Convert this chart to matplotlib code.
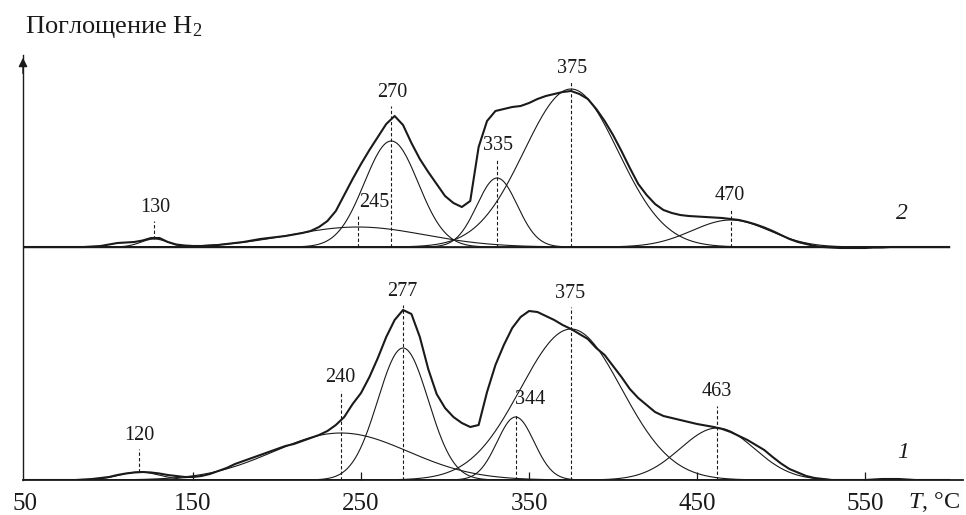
import numpy as np
import matplotlib
matplotlib.use("Agg")
import matplotlib.pyplot as plt

plt.rcParams['font.family'] = ['Liberation Serif', 'DejaVu Serif']
plt.rcParams['mathtext.fontset'] = 'custom'
plt.rcParams['mathtext.rm'] = 'Liberation Serif'
plt.rcParams['mathtext.it'] = 'Liberation Serif:italic'

# temperature grid of the measured TPR traces
temp = np.arange(50, 601, 5)

# curve 1 (bottom), H2 uptake, arbitrary units
uptake1 = [0, 0, 0, 0, 0, 0, 0, 0.5, 1, 2,
           3, 5, 6.5, 7.5, 8, 7.5, 6.5, 5, 4, 3,
           3, 4, 6, 9, 12, 16, 19, 22, 25, 28,
           31, 34, 36, 39, 42, 45, 49, 55, 63, 76,
           87, 103, 122, 143, 160, 170, 166, 143, 111, 86,
           72, 63, 57, 53, 55, 88, 115, 135, 152, 163,
           169, 168, 164, 160, 155, 151, 146, 141, 132, 125,
           114, 103, 91, 82, 75, 68, 64, 62, 60, 58,
           56, 54.5, 53, 51, 48, 44, 40, 35, 30, 23,
           16.5, 11, 7.5, 4, 2, 1, 0, 0, 0, 0,
           0, 0.5, 1, 1, 1, 0.5, 0, 0, 0, 0, 0]

# curve 2 (top)
uptake2 = [0, 0, 0, 0, 0, 0, 0, 0, 0.5, 1,
           2.5, 4, 4.5, 5, 6.5, 9, 9, 5, 2.5, 1.5,
           1, 1, 1.5, 2, 3, 4, 5, 6.5, 8, 9,
           10, 11, 12.5, 14, 16, 20, 26, 36, 52, 68,
           83, 97, 110, 123, 131, 122, 104, 88, 75, 63,
           51, 44, 40, 46, 100, 126, 136, 138, 140, 141,
           144, 148, 151, 153, 155, 156, 153, 148, 138, 126,
           112, 96, 79, 63, 52, 43, 37, 34, 32, 31,
           30.5, 30, 29.5, 29, 28, 27, 25, 22.5, 19.5, 16,
           12, 8, 5, 3, 1, 0, -0.5, -1, -1, -1,
           -1, -0.5, -0.5, 0, 0, 0, 0, 0, 0, 0, 0]

# gaussian components: centre, height, width
centers1 = [118, 238, 275, 342, 375, 462]
heights1 = [8, 47, 132, 63, 151, 52]
widths1 = [12, 40, 15, 11, 30, 22]
labels1 = ['120', '240', '277', '344', '375', '463']
lab_x1 = [118, 237.5, 274.4, 350.6, 374.4, 462]
lab_y1 = [45, 103, 189, 80, 187, 88]

centers2 = [127, 248, 268, 331, 375, 470]
heights2 = [8, 20, 106, 69, 158, 27]
widths2 = [8, 40, 16, 12, 28, 23]
labels2 = ['130', '245', '270', '335', '375', '470']
lab_x2 = [127.4, 258, 268.5, 331.5, 375.6, 469.6]
lab_y2 = [40, 45, 155, 102, 179, 52]

offset2 = 233
xticks = [50, 150, 250, 350, 450, 550]

ink = '#1a1a1a'

fig = plt.figure(figsize=(9.66, 5.15), dpi=100)
ax = fig.add_axes([23 / 966, 35 / 515, 940 / 966, 425 / 515])
ax.set_xlim(48.8, 608.3)
ax.set_ylim(0, 425)

tf = np.linspace(50, 600, 1101)


def draw_curve(uptake, cens, hs, ws, labs, lx, ly, base, small):
    ax.plot(temp, np.array(uptake) + base, color=ink, lw=1.5, solid_joinstyle='round')
    for c, h, w in zip(cens, hs, ws):
        g = h * np.exp(-(tf - c) ** 2 / (2 * w ** 2))
        ax.plot(tf, g + base, color=ink, lw=0.8)
    for i, (c, h, t, x, y) in enumerate(zip(cens, hs, labs, lx, ly)):
        lo = h if i == small else 0
        ax.plot([c, c], [base + lo, base + y - 14], color=ink, lw=0.8,
                ls=(0, (3, 2)))
        ax.text(x, base + y, t, ha='center', va='center', fontsize=14.5, color=ink)


draw_curve(uptake1, centers1, heights1, widths1, labels1, lab_x1, lab_y1, 0, 0)
draw_curve(uptake2, centers2, heights2, widths2, labels2, lab_x2, lab_y2, offset2, 0)

# baseline of the upper trace
ax.plot([48.8, 600], [offset2, offset2], color=ink, lw=1.0)

ax.text(572.6, 28, '1', fontsize=17, style='italic', ha='center', va='center', color=ink)
ax.text(572, offset2 + 34, '2', fontsize=17, style='italic', ha='center', va='center', color=ink)

for s in ['top', 'right']:
    ax.spines[s].set_visible(False)
ax.spines['bottom'].set_linewidth(1.3)
ax.spines['left'].set_linewidth(1.0)
ax.spines['bottom'].set_color(ink)
ax.spines['left'].set_color(ink)

ax.set_xticks(xticks)
ax.set_xticklabels([str(v) for v in xticks])
ax.tick_params(axis='x', direction='in', length=6, width=0.9, pad=9,
               labelsize=18, colors=ink)
ax.xaxis.get_major_ticks()[0].tick1line.set_visible(False)
ax.set_yticks([])

ax.annotate('', xy=(0, 1.0), xytext=(0, 0.95), xycoords='axes fraction',
            arrowprops=dict(arrowstyle='-|>', color=ink, lw=1.0, mutation_scale=13))

ax.text(50, 453, 'Поглощение H$_2$', fontsize=19, ha='left', va='center', color=ink)
ax.text(606.5, -22, '$T$, °C', fontsize=17.5, ha='right', va='center', color=ink)

fig.savefig('out.png', dpi=100)
